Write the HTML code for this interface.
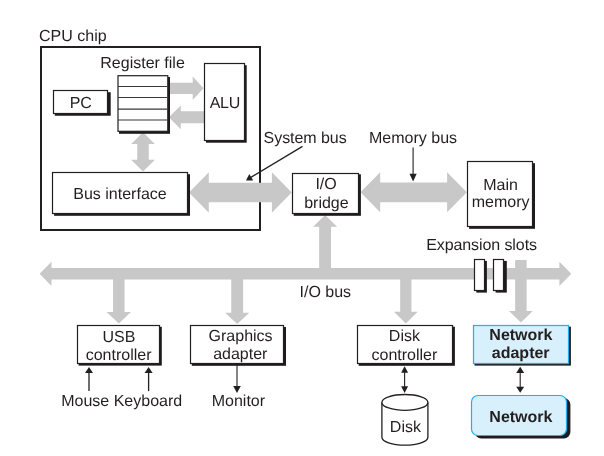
<!DOCTYPE html>
<html><head><meta charset="utf-8"><style>
html,body{margin:0;padding:0;background:#fff;width:604px;height:456px;overflow:hidden}
svg{display:block;will-change:transform}
text{font-family:"Liberation Sans",sans-serif;fill:#231f20;text-rendering:geometricPrecision}
</style></head><body>
<svg width="604" height="456" viewBox="0 0 604 456">
<rect x="41" y="47" width="219" height="183" fill="none" stroke="#231f20" stroke-width="2"/>
<g fill="#c8c8c8">
<polygon points="166.00,82.70 192.70,82.70 192.70,76.60 203.50,88.30 192.70,100.00 192.70,93.90 166.00,93.90"/>
<polygon points="206.00,111.35 180.80,111.35 180.80,105.40 168.80,117.30 180.80,129.20 180.80,123.25 206.00,123.25"/>
<polygon points="143.00,132.20 154.90,144.00 148.75,144.00 148.75,159.70 154.90,159.70 143.00,171.50 131.10,159.70 137.25,159.70 137.25,144.00 131.10,144.00"/>
<polygon points="189.00,192.50 208.80,172.30 208.80,182.80 271.90,182.80 271.90,172.30 291.70,192.50 271.90,212.70 271.90,202.20 208.80,202.20 208.80,212.70"/>
<polygon points="360.50,192.30 380.20,172.30 380.20,182.45 447.10,182.45 447.10,172.30 466.80,192.30 447.10,212.30 447.10,202.15 380.20,202.15 380.20,212.30"/>
<polygon points="319.20,270.00 331.00,270.00 331.00,226.80 337.10,226.80 325.10,214.90 313.10,226.80 319.20,226.80"/>
<polygon points="39.60,273.80 51.50,261.70 51.50,268.00 559.40,268.00 559.40,261.70 571.30,273.80 559.40,285.90 559.40,279.60 51.50,279.60 51.50,285.90"/>
<polygon points="113.05,276.00 124.55,276.00 124.55,312.10 131.00,312.10 118.80,323.60 106.60,312.10 113.05,312.10"/>
<polygon points="231.25,276.00 243.15,276.00 243.15,312.70 249.25,312.70 237.20,324.00 225.15,312.70 231.25,312.70"/>
<polygon points="400.20,276.00 411.40,276.00 411.40,311.80 417.70,311.80 405.80,323.50 393.90,311.80 400.20,311.80"/>
<polygon points="515.15,260.00 526.65,260.00 526.65,311.00 532.80,311.00 520.90,322.50 509.00,311.00 515.15,311.00"/>
</g>
<text x="39.00" y="41.30" text-anchor="start" font-weight="normal" font-size="16">CPU chip</text>
<text x="100.30" y="67.80" text-anchor="start" font-weight="normal" font-size="16">Register file</text>
<rect x="119.00" y="77.00" width="51.00" height="56.80" rx="0" fill="#1f1b1c"/>
<rect x="118.00" y="75.70" width="49.80" height="55.60" rx="0" fill="#fff" stroke="#231f20" stroke-width="1.2"/>
<line x1="118" x2="167.4" y1="86.5" y2="86.5" stroke="#3a3738" stroke-width="1.2"/>
<line x1="118" x2="167.4" y1="97.5" y2="97.5" stroke="#3a3738" stroke-width="1.2"/>
<line x1="118" x2="167.4" y1="109.05" y2="109.05" stroke="#3a3738" stroke-width="1.2"/>
<line x1="118" x2="167.4" y1="120.0" y2="120.0" stroke="#3a3738" stroke-width="1.2"/>
<rect x="54.80" y="92.20" width="55.90" height="23.55" rx="0" fill="#1f1b1c"/>
<rect x="53.50" y="90.50" width="54.00" height="23.00" rx="0" fill="#fff" stroke="#231f20" stroke-width="1.2"/>
<text x="80.80" y="107.60" text-anchor="middle" font-weight="normal" font-size="16">PC</text>
<rect x="206.00" y="65.20" width="40.70" height="77.50" rx="0" fill="#1f1b1c"/>
<rect x="204.50" y="63.50" width="40.00" height="77.00" rx="0" fill="#fff" stroke="#231f20" stroke-width="1.2"/>
<text x="224.85" y="108.30" text-anchor="middle" font-weight="normal" font-size="16" letter-spacing="-0.3">ALU</text>
<rect x="54.10" y="174.20" width="135.90" height="41.60" rx="0" fill="#1f1b1c"/>
<rect x="52.50" y="172.50" width="135.00" height="41.00" rx="0" fill="#fff" stroke="#231f20" stroke-width="1.2"/>
<text x="120.00" y="199.00" text-anchor="middle" font-weight="normal" font-size="16">Bus interface</text>
<text x="263.60" y="143.10" text-anchor="start" font-weight="normal" font-size="16" letter-spacing="-0.06">System bus</text>
<line x1="302.5" y1="146.4" x2="250.5" y2="177.6" stroke="#231f20" stroke-width="1.25"/>
<polygon points="246.00,180.50 249.30,174.10 253.20,180.50" fill="#231f20"/>
<rect x="293.70" y="174.30" width="67.20" height="41.50" rx="0" fill="#1f1b1c"/>
<rect x="292.50" y="173.50" width="66.00" height="40.00" rx="0" fill="#fff" stroke="#231f20" stroke-width="1.2"/>
<text x="326.10" y="189.20" text-anchor="middle" font-weight="normal" font-size="16">I/O</text>
<text x="326.40" y="207.50" text-anchor="middle" font-weight="normal" font-size="16">bridge</text>
<text x="369.00" y="142.60" text-anchor="start" font-weight="normal" font-size="16">Memory bus</text>
<line x1="413.1" y1="147.4" x2="413.1" y2="175" stroke="#231f20" stroke-width="1.1"/>
<polygon points="409.50,173.70 416.70,173.70 413.10,181.40" fill="#231f20"/>
<rect x="469.10" y="163.20" width="65.90" height="65.60" rx="0" fill="#1f1b1c"/>
<rect x="467.50" y="161.50" width="65.00" height="65.00" rx="0" fill="#fff" stroke="#231f20" stroke-width="1.2"/>
<text x="500.60" y="189.90" text-anchor="middle" font-weight="normal" font-size="16">Main</text>
<text x="500.60" y="207.10" text-anchor="middle" font-weight="normal" font-size="16">memory</text>
<text x="325.30" y="296.50" text-anchor="middle" font-weight="normal" font-size="16">I/O bus</text>
<text x="426.20" y="249.80" text-anchor="start" font-weight="normal" font-size="16" letter-spacing="-0.09">Expansion slots</text>
<rect x="476.30" y="260.90" width="10.60" height="31.70" rx="0" fill="#1f1b1c"/>
<rect x="474.50" y="259.50" width="10.00" height="31.00" rx="0" fill="#fff" stroke="#231f20" stroke-width="1.2"/>
<rect x="495.60" y="260.90" width="11.20" height="31.70" rx="0" fill="#1f1b1c"/>
<rect x="493.50" y="259.50" width="10.00" height="31.00" rx="0" fill="#fff" stroke="#231f20" stroke-width="1.2"/>
<rect x="78.60" y="326.80" width="83.20" height="38.80" rx="0" fill="#1f1b1c"/>
<rect x="77.50" y="325.50" width="82.00" height="38.00" rx="0" fill="#fff" stroke="#231f20" stroke-width="1.2"/>
<text x="118.90" y="341.50" text-anchor="middle" font-weight="normal" font-size="16">USB</text>
<text x="118.60" y="359.70" text-anchor="middle" font-weight="normal" font-size="16">controller</text>
<line x1="89" y1="391.1" x2="89" y2="371" stroke="#231f20" stroke-width="1.3"/>
<polygon points="85.00,372.90 93.00,372.90 89.00,366.90" fill="#231f20"/>
<line x1="148.6" y1="391.1" x2="148.6" y2="371" stroke="#231f20" stroke-width="1.3"/>
<polygon points="144.60,372.90 152.60,372.90 148.60,366.90" fill="#231f20"/>
<text x="61.20" y="406.20" text-anchor="start" font-weight="normal" font-size="16">Mouse Keyboard</text>
<rect x="191.80" y="327.00" width="94.20" height="38.80" rx="0" fill="#1f1b1c"/>
<rect x="190.50" y="325.50" width="93.00" height="38.00" rx="0" fill="#fff" stroke="#231f20" stroke-width="1.2"/>
<text x="240.60" y="341.30" text-anchor="middle" font-weight="normal" font-size="16">Graphics</text>
<text x="240.30" y="358.70" text-anchor="middle" font-weight="normal" font-size="16">adapter</text>
<line x1="237" y1="365" x2="237" y2="388" stroke="#231f20" stroke-width="1.1"/>
<polygon points="233.20,386.00 240.80,386.00 237.00,393.10" fill="#231f20"/>
<text x="238.40" y="406.40" text-anchor="middle" font-weight="normal" font-size="16">Monitor</text>
<rect x="358.70" y="326.70" width="96.20" height="39.10" rx="0" fill="#1f1b1c"/>
<rect x="357.50" y="325.50" width="95.00" height="38.00" rx="0" fill="#fff" stroke="#231f20" stroke-width="1.2"/>
<text x="404.40" y="340.90" text-anchor="middle" font-weight="normal" font-size="16">Disk</text>
<text x="404.40" y="359.80" text-anchor="middle" font-weight="normal" font-size="16">controller</text>
<line x1="404.6" y1="371" x2="404.6" y2="388" stroke="#231f20" stroke-width="1.1"/>
<polygon points="401.10,372.80 408.10,372.80 404.60,366.30" fill="#231f20"/>
<polygon points="401.10,386.20 408.10,386.20 404.60,393.10" fill="#231f20"/>
<path d="M381.9,402.4 L381.9,437.3 A23,7.9 0 0 0 427.9,437.3 L427.9,402.4" fill="#fff" stroke="#231f20" stroke-width="1.3"/>
<ellipse cx="404.9" cy="402.4" rx="23" ry="7.9" fill="#fff" stroke="#231f20" stroke-width="1.3"/>
<text x="405.40" y="431.60" text-anchor="middle" font-weight="normal" font-size="16">Disk</text>
<rect x="474.50" y="326.60" width="96.40" height="39.00" rx="0" fill="#1f1b1c"/>
<rect x="473.50" y="325.50" width="95.00" height="38.00" rx="0" fill="#d8f0fb" stroke="#1eb1ee" stroke-width="1.2"/>
<text x="520.90" y="340.00" text-anchor="middle" font-weight="bold" font-size="16">Network</text>
<text x="520.70" y="357.90" text-anchor="middle" font-weight="bold" font-size="16">adapter</text>
<line x1="520.2" y1="371" x2="520.2" y2="388" stroke="#231f20" stroke-width="1.1"/>
<polygon points="516.20,373.00 524.20,373.00 520.20,366.70" fill="#231f20"/>
<polygon points="516.20,386.70 524.20,386.70 520.20,392.80" fill="#231f20"/>
<rect x="474.80" y="398.10" width="95.60" height="40.40" rx="6.5" fill="#1f1b1c"/>
<rect x="471.50" y="395.50" width="95.00" height="40.00" rx="6.5" fill="#d8f0fb" stroke="#1eb1ee" stroke-width="1.2"/>
<text x="520.90" y="421.50" text-anchor="middle" font-weight="bold" font-size="16">Network</text>
</svg>
</body></html>
